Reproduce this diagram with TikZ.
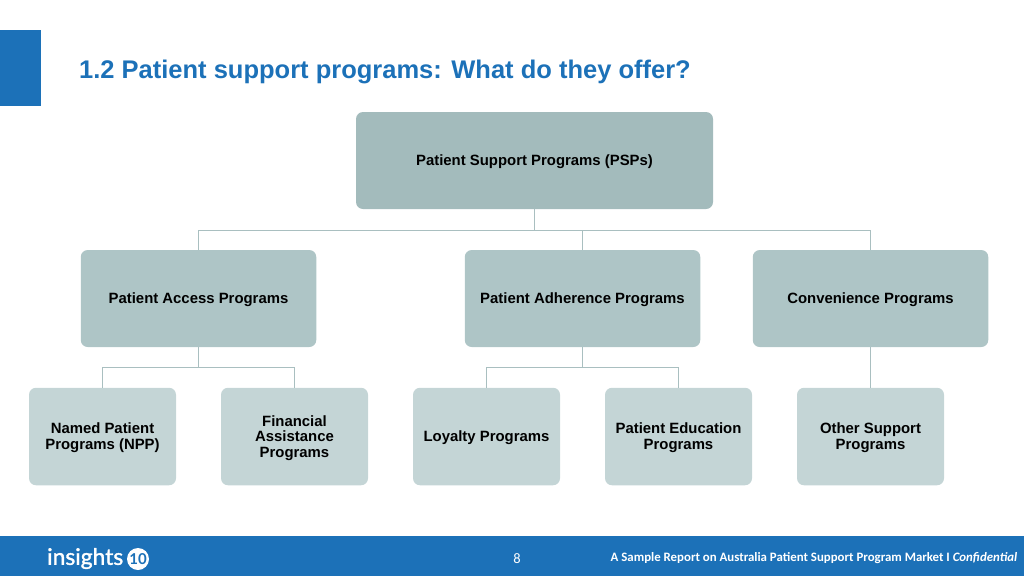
\documentclass[tikz,border=0pt]{standalone}
\usepackage{fontspec}
\setmainfont{Liberation Sans}
\newfontfamily\footfont{Carlito}
\newfontfamily\logofont{Lato}
\definecolor{brandblue}{HTML}{1C71B8}
\definecolor{lvlone}{HTML}{A3BBBC}
\definecolor{lvltwo}{HTML}{AEC5C6}
\definecolor{lvlthree}{HTML}{C4D5D6}
\definecolor{linkc}{HTML}{A9BFC0}
\newcommand{\stacked}[1]{\raisebox{-5.7pt}[0pt][0pt]{\begin{tabular}[c]{@{}c@{}}#1\end{tabular}}}
\tikzset{
  x=1pt,y=-1pt,
  boxbase/.style={rounded corners=7pt,inner sep=0pt,text=black,
    font=\fontsize{14.9}{15.6}\selectfont\bfseries},
  rootbox/.style={boxbase,fill=lvlone,minimum width=357pt,minimum height=97pt,execute at begin node={\rule{0pt}{14pt}}},
  midbox/.style={boxbase,fill=lvltwo,minimum width=235.5pt,minimum height=97pt,execute at begin node={\rule{0pt}{14pt}}},
  leafbox/.style={boxbase,fill=lvlthree,minimum width=147pt,minimum height=97.5pt},
  link/.style={draw=linkc,line width=0.9pt},
  footer/.style={text=white,font=\footfont\bfseries\fontsize{12.85}{14}\selectfont,inner sep=0pt},
}
\begin{document}
\begin{tikzpicture}
\useasboundingbox (0,0) rectangle (1024,576);
\fill[brandblue] (0,30) rectangle (41,106);
\node[anchor=west,inner sep=0pt,text=brandblue,font=\fontsize{25.5}{28}\selectfont\bfseries] (title) at (79,72) {1.2 Patient support programs: What do they offer?};
\node[rootbox] (root) at (534.5,160.5) {Patient Support Programs (PSPs)};
\node[midbox] (access) at (198.5,298.5) {Patient Access Programs};
\node[midbox] (adher) at (582.5,298.5) {Patient Adherence Programs};
\node[midbox] (conv) at (870.5,298.5) {Convenience Programs};
\node[leafbox] (npp) at (102.5,436.5) {\stacked{Named Patient\\Programs (NPP)}};
\node[leafbox] (fin) at (294.5,436.5) {\stacked{Financial\\Assistance\\Programs}};
\node[leafbox,execute at begin node={\rule{0pt}{14pt}}] (loy) at (486.5,436.5) {Loyalty Programs};
\node[leafbox] (edu) at (678.5,436.5) {\stacked{Patient Education\\Programs}};
\node[leafbox] (other) at (870.5,436.5) {\stacked{Other Support\\Programs}};
\path[link] (root.south) -- ++(0,21) -| (access.north);
\path[link] (root.south) -- ++(0,21) -| (adher.north);
\path[link] (root.south) -- ++(0,21) -| (conv.north);
\path[link] (access.south) -- ++(0,20.5) -| (npp.north);
\path[link] (access.south) -- ++(0,20.5) -| (fin.north);
\path[link] (adher.south) -- ++(0,20.5) -| (loy.north);
\path[link] (adher.south) -- ++(0,20.5) -| (edu.north);
\path[link] (conv.south) -- (other.north);
\fill[brandblue] (0,536) rectangle (1024,576);
\node[anchor=west,inner sep=0pt,text=white,font=\logofont\fontsize{22.8}{25}\selectfont] (logo) at (47,558.5) {\addfontfeatures{FakeBold=1.5}insights};
\node[circle,fill=white,minimum size=22pt,inner sep=0pt,text=brandblue,font=\logofont\bfseries\fontsize{15}{16}\selectfont] (ten) at (138,559) {10};
\node[text=white,inner sep=0pt,font=\footfont\fontsize{14.5}{15}\selectfont] (page) at (517,559) {8};
\node[footer,anchor=east] (foot) at (1017.5,558.5) {A Sample Report on Australia Patient Support Program Market I \textit{Confidential}};
\end{tikzpicture}
\end{document}
